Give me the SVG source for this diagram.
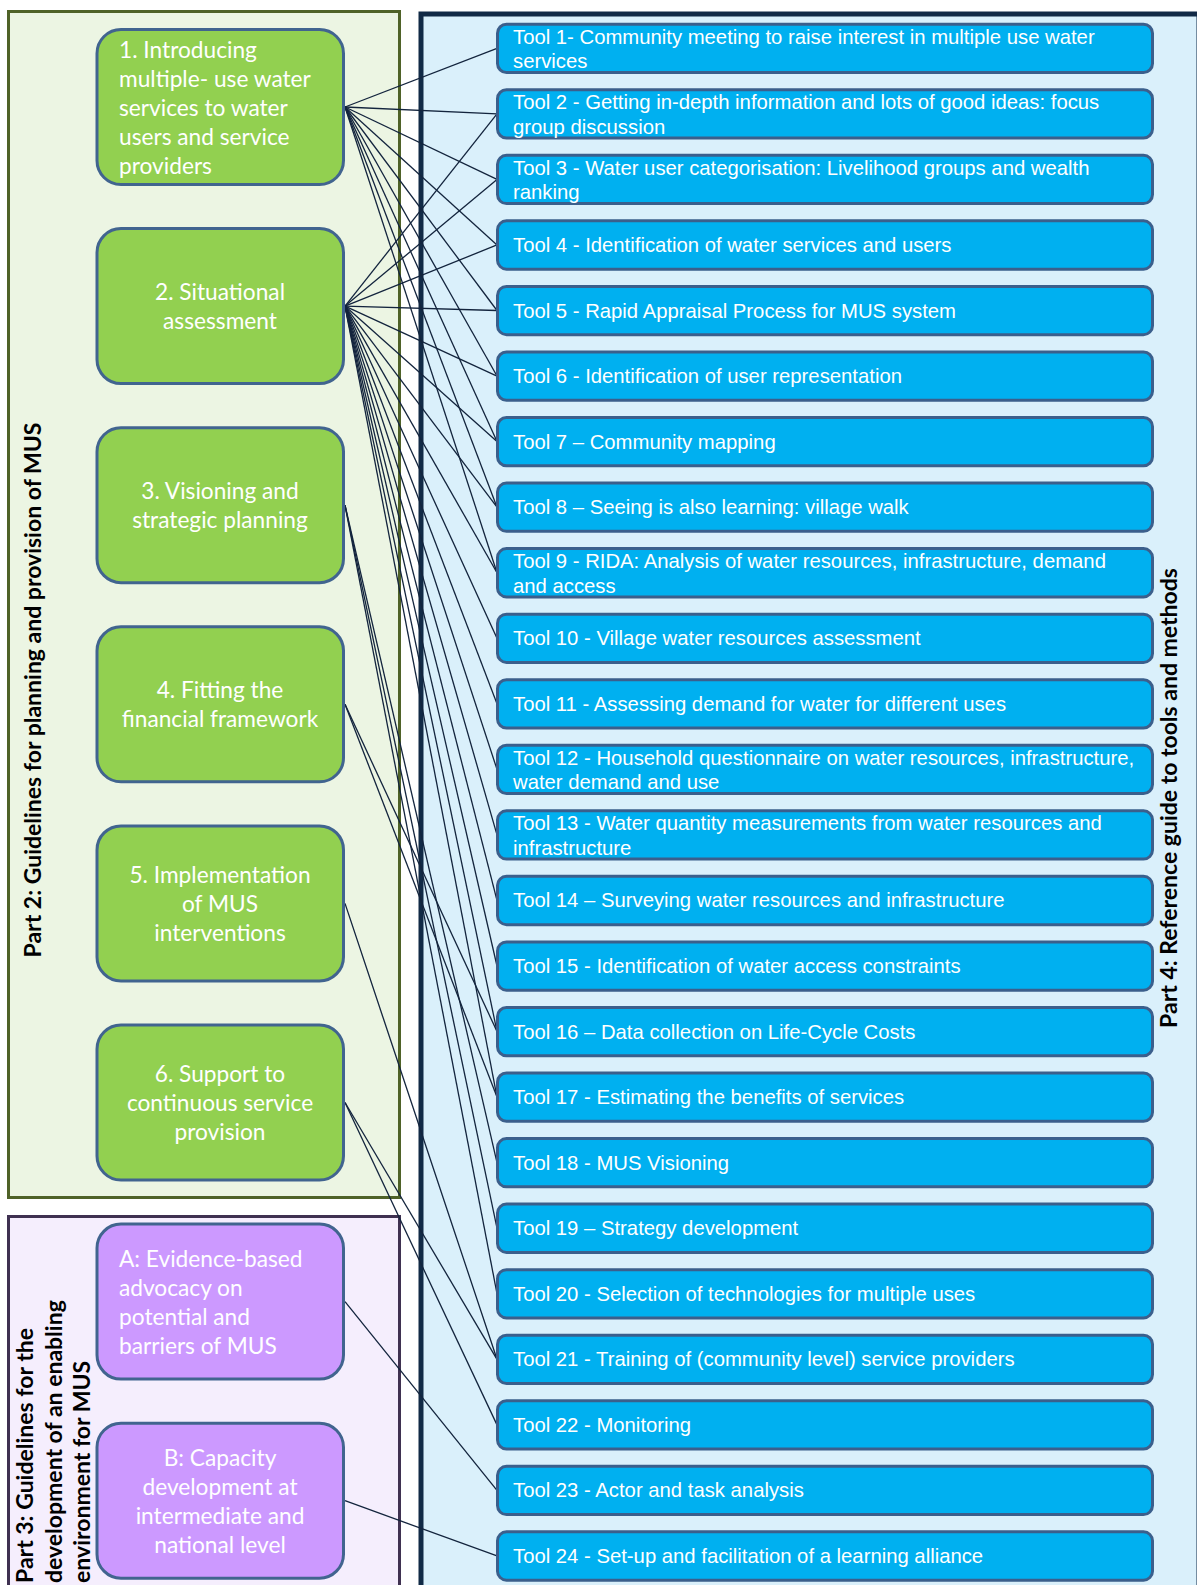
<svg xmlns="http://www.w3.org/2000/svg" width="1197" height="1585" viewBox="0 0 1197 1585">
<style>
.nodeG{fill:#92d050;stroke:#41648f;stroke-width:3}
.nodeP{fill:#cc99ff;stroke:#41648f;stroke-width:3}
.ntxt{font-family:Lato,"Liberation Sans",sans-serif;font-size:22.7px;fill:#ffffff}
.tool{fill:#00b0f0;stroke:#3b5f8c;stroke-width:3}
.ttxt{font-family:"Liberation Sans",Arial,sans-serif;font-size:20.3px;fill:#ffffff}
.lbl{font-family:Lato,"Liberation Sans",sans-serif;font-size:23px;font-weight:bold;fill:#000000}
.con line{stroke:#13243d;stroke-width:1.3}
</style>
<rect x="0" y="0" width="1197" height="1585" fill="#ffffff"/>
<g id="part2">
<rect x="8.5" y="11.5" width="391" height="1186" fill="#ecf5e3" stroke="#4f6228" stroke-width="3"/>
<text class="lbl" transform="translate(41,690) rotate(-90)" text-anchor="middle">Part 2: Guidelines for planning and provision of MUS</text>
</g>
<g id="part3">
<rect x="8.5" y="1216.5" width="391" height="380" fill="#f5eefd" stroke="#3f3151" stroke-width="3"/>
<text class="lbl" transform="translate(33,1583) rotate(-90)">Part 3: Guidelines for the</text>
<text class="lbl" transform="translate(62,1583) rotate(-90)">development of an enabling</text>
<text class="lbl" transform="translate(90,1583) rotate(-90)">environment for MUS</text>
</g>
<g id="part4">
<rect x="421" y="14" width="778" height="1590" fill="#daf0fb" stroke="#112a46" stroke-width="5"/>
<text class="lbl" transform="translate(1177,798) rotate(-90)" text-anchor="middle">Part 4: Reference guide to tools and methods</text>
</g>
<g id="connectors" class="con">
<line x1="345" y1="107" x2="497" y2="48.3"/>
<line x1="345" y1="107" x2="497" y2="113.85"/>
<line x1="345" y1="107" x2="497" y2="179.4"/>
<line x1="345" y1="107" x2="497" y2="244.95"/>
<line x1="345" y1="107" x2="497" y2="310.5"/>
<line x1="345" y1="107" x2="497" y2="376.05"/>
<line x1="345" y1="107" x2="497" y2="441.6"/>
<line x1="345" y1="107" x2="497" y2="507.15"/>
<line x1="345" y1="107" x2="497" y2="572.7"/>
<line x1="345" y1="306.1" x2="497" y2="113.85"/>
<line x1="345" y1="306.1" x2="497" y2="179.4"/>
<line x1="345" y1="306.1" x2="497" y2="244.95"/>
<line x1="345" y1="306.1" x2="497" y2="310.5"/>
<line x1="345" y1="306.1" x2="497" y2="376.05"/>
<line x1="345" y1="306.1" x2="497" y2="441.6"/>
<line x1="345" y1="306.1" x2="497" y2="507.15"/>
<line x1="345" y1="306.1" x2="497" y2="572.7"/>
<line x1="345" y1="306.1" x2="497" y2="638.25"/>
<line x1="345" y1="306.1" x2="497" y2="703.8"/>
<line x1="345" y1="306.1" x2="497" y2="769.35"/>
<line x1="345" y1="306.1" x2="497" y2="834.9"/>
<line x1="345" y1="306.1" x2="497" y2="900.45"/>
<line x1="345" y1="306.1" x2="497" y2="966"/>
<line x1="345" y1="306.1" x2="497" y2="1031.55"/>
<line x1="345" y1="306.1" x2="497" y2="1097.1"/>
<line x1="345" y1="505.2" x2="497" y2="1162.65"/>
<line x1="345" y1="505.2" x2="497" y2="1228.2"/>
<line x1="345" y1="505.2" x2="497" y2="1293.75"/>
<line x1="345" y1="704.3" x2="497" y2="1031.55"/>
<line x1="345" y1="704.3" x2="497" y2="1097.1"/>
<line x1="345" y1="903.4" x2="497" y2="1359.3"/>
<line x1="345" y1="1102.5" x2="497" y2="1359.3"/>
<line x1="345" y1="1102.5" x2="497" y2="1424.85"/>
<line x1="345" y1="1301.6" x2="497" y2="1490.4"/>
<line x1="345" y1="1500.7" x2="497" y2="1555.95"/>
</g>
<g id="n1"><rect class="nodeG" x="97" y="29.5" width="246.5" height="155" rx="24"/>
<text class="ntxt" x="119"><tspan x="119" y="57.5">1. Introducing</tspan><tspan x="119" y="86.5">multiple- use water</tspan><tspan x="119" y="115.5">services to water</tspan><tspan x="119" y="144.5">users and service</tspan><tspan x="119" y="173.5">providers</tspan></text></g>
<g id="n2"><rect class="nodeG" x="97" y="228.6" width="246.5" height="155" rx="24"/>
<text class="ntxt" text-anchor="middle"><tspan x="220" y="300.1">2. Situational</tspan><tspan x="220" y="329.1">assessment</tspan></text></g>
<g id="n3"><rect class="nodeG" x="97" y="427.7" width="246.5" height="155" rx="24"/>
<text class="ntxt" text-anchor="middle"><tspan x="220" y="499.2">3. Visioning and</tspan><tspan x="220" y="528.2">strategic planning</tspan></text></g>
<g id="n4"><rect class="nodeG" x="97" y="626.8" width="246.5" height="155" rx="24"/>
<text class="ntxt" text-anchor="middle"><tspan x="220" y="698.3">4. Fitting the</tspan><tspan x="220" y="727.3">financial framework</tspan></text></g>
<g id="n5"><rect class="nodeG" x="97" y="825.9" width="246.5" height="155" rx="24"/>
<text class="ntxt" text-anchor="middle"><tspan x="220" y="882.9">5. Implementation</tspan><tspan x="220" y="911.9">of MUS</tspan><tspan x="220" y="940.9">interventions</tspan></text></g>
<g id="n6"><rect class="nodeG" x="97" y="1025" width="246.5" height="155" rx="24"/>
<text class="ntxt" text-anchor="middle"><tspan x="220" y="1082">6. Support to</tspan><tspan x="220" y="1111">continuous service</tspan><tspan x="220" y="1140">provision</tspan></text></g>
<g id="nA"><rect class="nodeP" x="97" y="1224.1" width="246.5" height="155" rx="24"/>
<text class="ntxt"><tspan x="119" y="1266.6">A: Evidence-based</tspan><tspan x="119" y="1295.6">advocacy on</tspan><tspan x="119" y="1324.6">potential and</tspan><tspan x="119" y="1353.6">barriers of MUS</tspan></text></g>
<g id="nB"><rect class="nodeP" x="97" y="1423.2" width="246.5" height="155" rx="24"/>
<text class="ntxt" text-anchor="middle"><tspan x="220" y="1465.7">B: Capacity</tspan><tspan x="220" y="1494.7">development at</tspan><tspan x="220" y="1523.7">intermediate and</tspan><tspan x="220" y="1552.7">national level</tspan></text></g>
<g id="t1"><rect class="tool" x="497.5" y="24.2" width="655" height="48.3" rx="9"/><text class="ttxt"><tspan x="513" y="43.8">Tool 1- Community meeting to raise interest in multiple use water</tspan><tspan x="513" y="68.1">services</tspan></text></g>
<g id="t2"><rect class="tool" x="497.5" y="89.75" width="655" height="48.3" rx="9"/><text class="ttxt"><tspan x="513" y="109.35">Tool 2 - Getting in-depth information and lots of good ideas: focus</tspan><tspan x="513" y="133.65">group discussion</tspan></text></g>
<g id="t3"><rect class="tool" x="497.5" y="155.3" width="655" height="48.3" rx="9"/><text class="ttxt"><tspan x="513" y="174.9">Tool 3 - Water user categorisation: Livelihood groups and wealth</tspan><tspan x="513" y="199.2">ranking</tspan></text></g>
<g id="t4"><rect class="tool" x="497.5" y="220.85" width="655" height="48.3" rx="9"/><text class="ttxt" x="513" y="252">Tool 4 - Identification of water services and users</text></g>
<g id="t5"><rect class="tool" x="497.5" y="286.4" width="655" height="48.3" rx="9"/><text class="ttxt" x="513" y="317.5">Tool 5 - Rapid Appraisal Process for MUS system</text></g>
<g id="t6"><rect class="tool" x="497.5" y="351.95" width="655" height="48.3" rx="9"/><text class="ttxt" x="513" y="383">Tool 6 - Identification of user representation</text></g>
<g id="t7"><rect class="tool" x="497.5" y="417.5" width="655" height="48.3" rx="9"/><text class="ttxt" x="513" y="448.6">Tool 7 – Community mapping</text></g>
<g id="t8"><rect class="tool" x="497.5" y="483.05" width="655" height="48.3" rx="9"/><text class="ttxt" x="513" y="514.1">Tool 8 – Seeing is also learning: village walk</text></g>
<g id="t9"><rect class="tool" x="497.5" y="548.6" width="655" height="48.3" rx="9"/><text class="ttxt"><tspan x="513" y="568.2">Tool 9 - RIDA: Analysis of water resources, infrastructure, demand</tspan><tspan x="513" y="592.5">and access</tspan></text></g>
<g id="t10"><rect class="tool" x="497.5" y="614.15" width="655" height="48.3" rx="9"/><text class="ttxt" x="513" y="645.2">Tool 10 - Village water resources assessment</text></g>
<g id="t11"><rect class="tool" x="497.5" y="679.7" width="655" height="48.3" rx="9"/><text class="ttxt" x="513" y="710.8">Tool 11 - Assessing demand for water for different uses</text></g>
<g id="t12"><rect class="tool" x="497.5" y="745.25" width="655" height="48.3" rx="9"/><text class="ttxt"><tspan x="513" y="764.85">Tool 12 - Household questionnaire on water resources, infrastructure,</tspan><tspan x="513" y="789.15">water demand and use</tspan></text></g>
<g id="t13"><rect class="tool" x="497.5" y="810.8" width="655" height="48.3" rx="9"/><text class="ttxt"><tspan x="513" y="830.4">Tool 13 - Water quantity measurements from water resources and</tspan><tspan x="513" y="854.7">infrastructure</tspan></text></g>
<g id="t14"><rect class="tool" x="497.5" y="876.35" width="655" height="48.3" rx="9"/><text class="ttxt" x="513" y="907.4">Tool 14 – Surveying water resources and infrastructure</text></g>
<g id="t15"><rect class="tool" x="497.5" y="941.9" width="655" height="48.3" rx="9"/><text class="ttxt" x="513" y="973">Tool 15 - Identification of water access constraints</text></g>
<g id="t16"><rect class="tool" x="497.5" y="1007.45" width="655" height="48.3" rx="9"/><text class="ttxt" x="513" y="1038.5">Tool 16 – Data collection on Life-Cycle Costs</text></g>
<g id="t17"><rect class="tool" x="497.5" y="1073" width="655" height="48.3" rx="9"/><text class="ttxt" x="513" y="1104.1">Tool 17 - Estimating the benefits of services</text></g>
<g id="t18"><rect class="tool" x="497.5" y="1138.55" width="655" height="48.3" rx="9"/><text class="ttxt" x="513" y="1169.6">Tool 18 - MUS Visioning</text></g>
<g id="t19"><rect class="tool" x="497.5" y="1204.1" width="655" height="48.3" rx="9"/><text class="ttxt" x="513" y="1235.2">Tool 19 – Strategy development</text></g>
<g id="t20"><rect class="tool" x="497.5" y="1269.65" width="655" height="48.3" rx="9"/><text class="ttxt" x="513" y="1300.7">Tool 20 - Selection of technologies for multiple uses</text></g>
<g id="t21"><rect class="tool" x="497.5" y="1335.2" width="655" height="48.3" rx="9"/><text class="ttxt" x="513" y="1366.3">Tool 21 - Training of (community level) service providers</text></g>
<g id="t22"><rect class="tool" x="497.5" y="1400.75" width="655" height="48.3" rx="9"/><text class="ttxt" x="513" y="1431.8">Tool 22 - Monitoring</text></g>
<g id="t23"><rect class="tool" x="497.5" y="1466.3" width="655" height="48.3" rx="9"/><text class="ttxt" x="513" y="1497.4">Tool 23 - Actor and task analysis</text></g>
<g id="t24"><rect class="tool" x="497.5" y="1531.85" width="655" height="48.3" rx="9"/><text class="ttxt" x="513" y="1563">Tool 24 - Set-up and facilitation of a learning alliance</text></g>
</svg>
